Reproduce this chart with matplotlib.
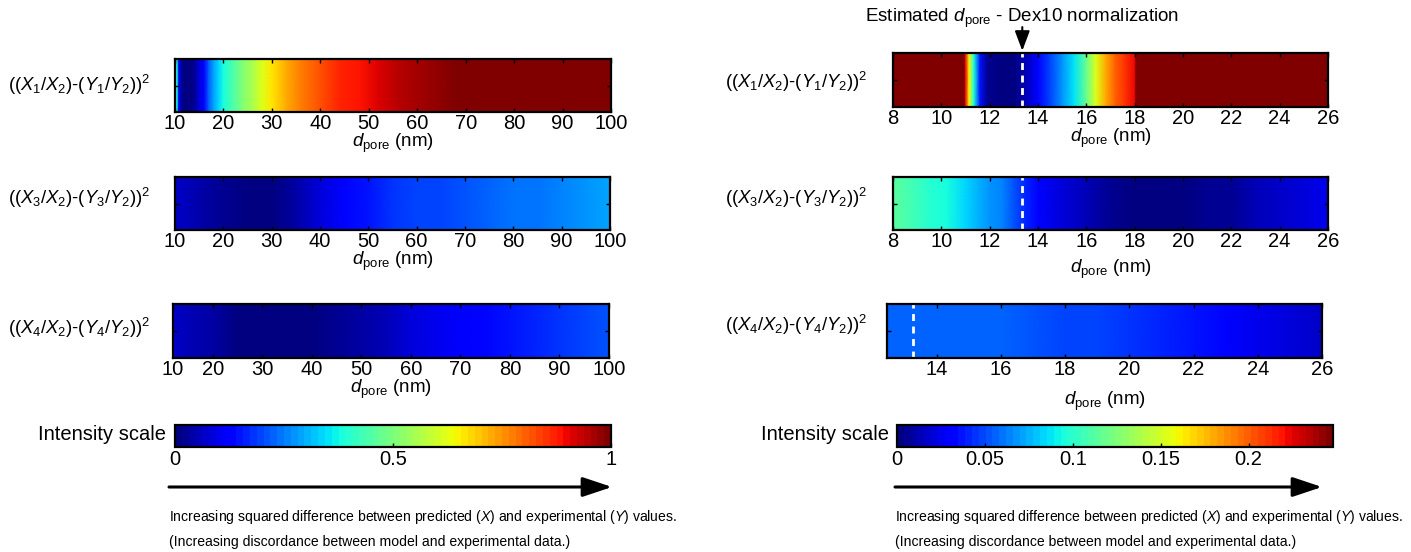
import numpy as np
import matplotlib.pyplot as plt
from matplotlib.cm import ScalarMappable
from matplotlib.colors import Normalize
from matplotlib.patches import FancyArrowPatch

plt.rcParams['font.family'] = 'Liberation Sans'
plt.rcParams['mathtext.fontset'] = 'custom'
plt.rcParams['mathtext.rm'] = 'Liberation Sans'
plt.rcParams['mathtext.it'] = 'Liberation Sans:italic'
plt.rcParams['mathtext.bf'] = 'Liberation Sans:bold'

# --- Data read off the heat strips (d_pore in nm, squared difference) ---
# left column, intensity scale 0..1
d_left1 = [10, 10.4, 10.8, 11.4, 12, 13, 14, 15, 16, 17, 18, 19, 20, 22, 24, 26,
           28, 30, 33, 36, 40, 44, 48, 52, 56, 60, 64, 68, 72, 80, 90, 100]
v_left1 = [0.50, 0.38, 0.12, 0.03, 0.01, 0.01, 0.03, 0.08, 0.14, 0.22, 0.29, 0.34,
           0.38, 0.44, 0.50, 0.56, 0.62, 0.66, 0.72, 0.77, 0.82, 0.86, 0.89, 0.915,
           0.94, 0.96, 0.98, 1.0, 1.0, 1.0, 1.0, 1.0]

d_left2 = [10, 13, 16, 20, 25, 30, 35, 40, 45, 50, 55, 60, 65, 70, 75, 80, 85, 90, 95, 100]
v_left2 = [0.075, 0.06, 0.04, 0.025, 0.012, 0.012, 0.04, 0.09, 0.125, 0.155, 0.175,
           0.19, 0.2, 0.215, 0.225, 0.235, 0.245, 0.255, 0.27, 0.29]

d_left3 = [12, 15, 20, 25, 30, 35, 40, 45, 50, 55, 60, 65, 70, 75, 80, 85, 90, 95, 100]
v_left3 = [0.07, 0.06, 0.035, 0.015, 0.01, 0.01, 0.012, 0.025, 0.045, 0.06, 0.08,
           0.1, 0.115, 0.13, 0.145, 0.16, 0.175, 0.19, 0.21]

# right column, intensity scale 0..0.248 (Dex10 normalization)
d_right1 = [8, 10, 10.95, 11.0, 11.15, 11.35, 11.6, 11.9, 12.5, 13.0, 13.5, 14.0,
            14.5, 15.0, 15.5, 16.0, 16.4, 16.8, 17.2, 17.6, 18.0, 18.05, 20, 26]
v_right1 = [0.30, 0.30, 0.30, 0.223, 0.16, 0.094, 0.035, 0.007, 0.002, 0.002, 0.012,
            0.031, 0.05, 0.067, 0.089, 0.119, 0.154, 0.179, 0.198, 0.213, 0.223,
            0.30, 0.30, 0.30]

d_right2 = [8, 8.8, 9.5, 10.2, 11, 11.5, 12, 12.5, 13, 13.5, 14, 15, 16, 17, 18, 19,
            20, 21, 22, 23, 24, 25, 26]
v_right2 = [0.114, 0.107, 0.099, 0.093, 0.084, 0.077, 0.069, 0.062, 0.052, 0.042,
            0.031, 0.022, 0.012, 0.006, 0.003, 0.0025, 0.0025, 0.004, 0.007, 0.012,
            0.017, 0.021, 0.025]

d_right3 = [12.45, 14, 16, 17, 18, 19, 20, 21, 22, 23, 24, 25, 26]
v_right3 = [0.056, 0.056, 0.055, 0.052, 0.050, 0.047, 0.043, 0.040, 0.035, 0.031,
            0.026, 0.021, 0.017]

dpore_est = [13.35, 13.35, 13.25]   # dashed markers on right strips

left_ticks = [10, 20, 30, 40, 50, 60, 70, 80, 90, 100]
left3_ticks = [12, 20, 30, 40, 50, 60, 70, 80, 90, 100]
right_ticks = [8, 10, 12, 14, 16, 18, 20, 22, 24, 26]
right3_ticks = [14, 16, 18, 20, 22, 24, 26]

row_labels = [r'$((X_1/X_2)\text{-}(Y_1/Y_2))^2$',
              r'$((X_3/X_2)\text{-}(Y_3/Y_2))^2$',
              r'$((X_4/X_2)\text{-}(Y_4/Y_2))^2$']

vmax_left = 1.0
vmax_right = 0.248
scale_ticks_left = [0, 0.5, 1]
scale_ticks_right = [0, 0.05, 0.1, 0.15, 0.2]

# --- Figure ---
W, H = 1411, 552
fig = plt.figure(figsize=(W / 100, H / 100), dpi=100)
jet = plt.get_cmap('jet', 64)
FS = 14.5
XL = 13.5


def px_axes(x0, y0, x1, y1):
    return fig.add_axes([x0 / W, 1 - y1 / H, (x1 - x0) / W, (y1 - y0) / H])


def draw_strip(rect, d, v, vmax, ticks, ticklabels, labelpad, marker=None):
    ax = px_axes(*rect)
    ax.pcolormesh(d, [0, 1], np.vstack([v, v]), shading='gouraud',
                  cmap=jet, vmin=0, vmax=vmax)
    ax.set_xlim(d[0], d[-1])
    ax.set_ylim(0, 1)
    ax.set_xticks(ticks)
    ax.set_xticklabels(ticklabels)
    ax.set_yticks([0.5])
    ax.set_yticklabels([])
    ax.tick_params(direction='in', top=True, right=True, length=3, width=1,
                   labelsize=FS, pad=1.5)
    for s in ax.spines.values():
        s.set_linewidth(1.6)
    ax.set_xlabel(r'$d_{\mathrm{pore}}$ (nm)', fontsize=XL, labelpad=labelpad)
    if marker is not None:
        ax.axvline(marker, color='white', lw=2, ls=(0, (2.5, 2)))
    return ax


# left column
draw_strip((175, 59, 611, 112), d_left1, v_left1, vmax_left, left_ticks, left_ticks, -1)
draw_strip((175, 177, 610, 230), d_left2, v_left2, vmax_left, left_ticks, left_ticks, -1)
draw_strip((173, 304, 609, 358), d_left3, v_left3, vmax_left, left3_ticks, left_ticks, -1)

# right column
ax_r1 = draw_strip((893, 53, 1328, 107), d_right1, v_right1, vmax_right,
                   right_ticks, right_ticks, -1, dpore_est[0])
draw_strip((893, 177, 1328, 230), d_right2, v_right2, vmax_right,
           right_ticks, right_ticks, 5, dpore_est[1])
draw_strip((887, 304, 1322, 358), d_right3, v_right3, vmax_right,
           right3_ticks, right3_ticks, 8, dpore_est[2])

xt = ax_r1.get_xaxis_transform()
ax_r1.annotate('', xy=(dpore_est[0], 1.04), xycoords=xt,
               xytext=(dpore_est[0], 1.48), textcoords=xt,
               arrowprops=dict(arrowstyle='-|>,head_length=1.2,head_width=0.45',
                               mutation_scale=10, lw=1.5, color='black',
                               shrinkA=0, shrinkB=0))
ax_r1.text(dpore_est[0], 1.64, r'Estimated $d_{\mathrm{pore}}$ - Dex10 normalization',
           transform=xt, ha='center', va='center', fontsize=13.5)

# row labels
for lx, ys in [(8, [85, 198, 328]), (725, [82, 198, 325])]:
    for lab, y in zip(row_labels, ys):
        fig.text(lx / W, 1 - y / H, lab, ha='left', va='center', fontsize=13.3)


def draw_scale(rect, vmax, ticks, label_x, arrow_x):
    cax = px_axes(*rect)
    cb = fig.colorbar(ScalarMappable(Normalize(0, vmax), jet), cax=cax,
                      orientation='horizontal')
    cb.set_ticks(ticks)
    cb.set_ticklabels([f'{t:g}' for t in ticks])
    cax.tick_params(direction='in', length=3, width=1, labelsize=FS, pad=2)
    cb.outline.set_linewidth(1.6)
    fig.text(label_x / W, 1 - 435 / H, 'Intensity scale', ha='right', va='center',
             fontsize=14.5)
    arr = FancyArrowPatch((arrow_x[0] / W, 1 - 487 / H), (arrow_x[1] / W, 1 - 487 / H),
                          transform=fig.transFigure,
                          arrowstyle='-|>,head_length=1.8,head_width=0.6',
                          mutation_scale=10, lw=2.2, color='black',
                          shrinkA=0, shrinkB=0)
    fig.add_artist(arr)
    fig.text(arrow_x[0] / W, 1 - 517 / H,
             r'Increasing squared difference between predicted ($X$) and experimental ($Y$) values.',
             ha='left', va='center', fontsize=10.1)
    fig.text(arrow_x[0] / W, 1 - 542 / H,
             '(Increasing discordance between model and experimental data.)',
             ha='left', va='center', fontsize=10.1)


draw_scale((175, 425, 611, 447), vmax_left, scale_ticks_left, 166, (169, 612))
draw_scale((897, 425, 1333, 447), vmax_right, scale_ticks_right, 889, (895, 1322))

fig.savefig('out.png', dpi=100)
